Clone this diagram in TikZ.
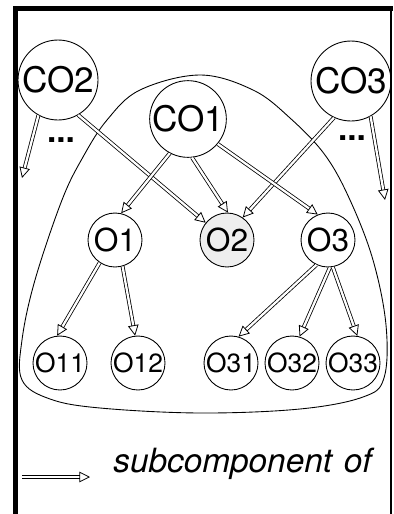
\documentclass[tikz,border=0pt]{standalone}
\usepackage{fontspec}
\setmainfont{TeX Gyre Heros}
\usetikzlibrary{arrows.meta}

\definecolor{shade}{HTML}{EEEEEE}

\tikzset{
    comp/.style={circle, draw, line width=0.5pt, inner sep=0pt},
    big/.style={comp, minimum size=1.6cm, font=\fontsize{20}{22}\selectfont},
    mid/.style={comp, minimum size=1.08cm, font=\fontsize{18}{20}\selectfont},
    leaf/.style={comp, minimum size=1.08cm, font=\fontsize{15}{17}\selectfont},
    sub/.style={double, double distance=1.3pt, line width=0.45pt,
        -{Triangle[open, length=6pt, width=6pt, line width=0.45pt]}},
    dots/.style={font=\fontsize{19}{21}\selectfont\bfseries},
}

\begin{document}
\begin{tikzpicture}[x=0.02cm, y=-0.02cm]
    \useasboundingbox (0,0) rectangle (393,514);

    % frame
    \draw[line width=2.3pt] (15.5,514) -- (15.5,8.5) -- (393,8.5);
    \draw[line width=1pt] (391,8.5) -- (391,514);

    % the composite around CO1
    \draw[line width=0.5pt] plot[smooth cycle, tension=0.6] coordinates {
        (200,75) (253,90) (290,118) (325,155) (350,200) (373,260)
        (386,325) (384,378) (363,397) (300,409) (200,413) (100,408)
        (50,399) (22,380) (22,340) (35,280) (62,200) (83,157)
        (107,120) (140,90)};

    % components
    \node[big] (co2) at (58,80) {CO2};
    \node[big] (co3) at (351,81) {CO3};
    \node[comp, minimum size=1.44cm, font=\fontsize{20}{22}\selectfont] (co1) at (188,119) {CO1};

    \node[mid] (o1) at (115,240) {O1};
    \node[mid, fill=shade] (o2) at (227,240) {O2};
    \node[mid] (o3) at (328,240) {O3};

    \foreach \name/\x in {o11/60, o12/138, o31/231, o32/292, o33/353} {
        \node[leaf] (\name) at (\x,363) {\MakeUppercase{\name}};
    }

    \node[dots] (dl) at (61,140) {...};
    \node[dots] (dr) at (352,138) {...};
    \coordinate (endl) at (22,178);
    \coordinate (endr) at (385,200);

    % subcomponent arrows
    \draw[sub] (co2.-119) -- (endl);
    \draw[sub] (co2.-60) -- (o2.141);
    \draw[sub] (co3.-61) -- (endr);
    \draw[sub] (co3.-115) -- (o2.55);
    \draw[sub] (co1.-118) -- (o1.77);
    \draw[sub] (co1.-84) -- (o2.88);
    \draw[sub] (co1.-40) -- (o3.112);
    \draw[sub] (o1.-124) -- (o11.96);
    \draw[sub] (o1.-74) -- (o12.96);
    \draw[sub] (o3.-115) -- (o31.74);
    \draw[sub] (o3.-86) -- (o32.74);
    \draw[sub] (o3.-80) -- (o33.81);

    % legend
    \coordinate (ka) at (22,477);
    \coordinate (kb) at (90,477);
    \draw[sub] (ka) -- (kb);
    \node[anchor=base west, inner sep=0pt, font=\fontsize{19}{21}\selectfont\itshape]
        (key) at (113,472) {subcomponent\hspace{0.35em}of};
\end{tikzpicture}
\end{document}
